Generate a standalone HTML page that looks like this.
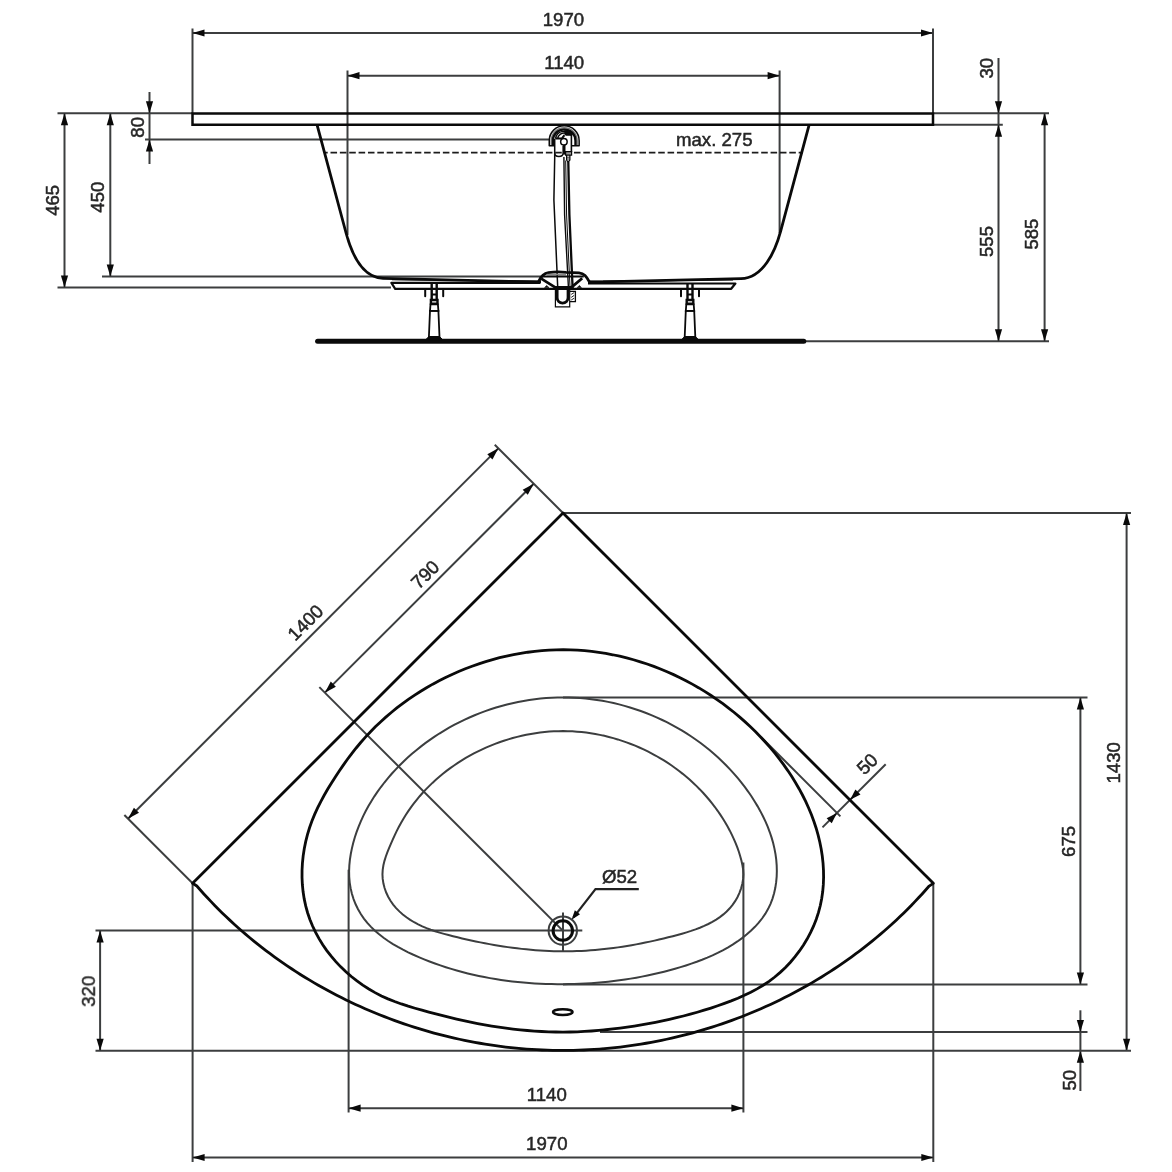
<!DOCTYPE html>
<html>
<head>
<meta charset="utf-8">
<title>Corner bathtub technical drawing</title>
<style>
html,body{margin:0;padding:0;background:#fff;}
body{width:1172px;height:1172px;overflow:hidden;}
svg{display:block;}
svg text{font-family:"Liberation Sans",sans-serif;}
</style>
</head>
<body>
<svg width="1172" height="1172" viewBox="0 0 1172 1172">
<rect width="1172" height="1172" fill="#ffffff"/>
<g style="mix-blend-mode:multiply">
<line x1="192.5" y1="28.5" x2="192.5" y2="113.4" stroke="#3c3e3f" stroke-width="2"/>
<line x1="933" y1="28.5" x2="933" y2="113.4" stroke="#3c3e3f" stroke-width="2"/>
<line x1="192.5" y1="33" x2="933" y2="33" stroke="#3c3e3f" stroke-width="2"/>
<polygon points="192.5,33 204.5,29.4 204.5,36.6" fill="#0a0a0a"/>
<polygon points="933,33 921,36.6 921,29.4" fill="#0a0a0a"/>
<text x="563.4" y="26.3" font-size="18.6" text-anchor="middle" fill="#262626" stroke="#262626" stroke-width="0.5">1970</text>
<line x1="347.5" y1="70.5" x2="347.5" y2="235" stroke="#3c3e3f" stroke-width="2"/>
<line x1="779.6" y1="70.5" x2="779.6" y2="233" stroke="#3c3e3f" stroke-width="2"/>
<line x1="347.5" y1="75.7" x2="779.6" y2="75.7" stroke="#3c3e3f" stroke-width="2"/>
<polygon points="347.5,75.7 359.5,72.1 359.5,79.3" fill="#0a0a0a"/>
<polygon points="779.6,75.7 767.6,79.3 767.6,72.1" fill="#0a0a0a"/>
<text x="564.2" y="68.8" font-size="18.6" text-anchor="middle" fill="#262626" stroke="#262626" stroke-width="0.5">1140</text>
<line x1="57.5" y1="113.3" x2="192.5" y2="113.3" stroke="#3c3e3f" stroke-width="2"/>
<line x1="145" y1="139.5" x2="550" y2="139.5" stroke="#3c3e3f" stroke-width="2"/>
<line x1="102" y1="276.5" x2="541" y2="276.5" stroke="#3c3e3f" stroke-width="2"/>
<line x1="57.5" y1="287.5" x2="391" y2="287.5" stroke="#3c3e3f" stroke-width="2"/>
<line x1="64.5" y1="113.3" x2="64.5" y2="287.5" stroke="#3c3e3f" stroke-width="2"/>
<polygon points="64.5,113.3 68.1,125.3 60.9,125.3" fill="#0a0a0a"/>
<polygon points="64.5,287.5 60.9,275.5 68.1,275.5" fill="#0a0a0a"/>
<text x="0" y="0" font-size="18.6" text-anchor="middle" fill="#262626" stroke="#262626" stroke-width="0.5" transform="translate(58.6 200.3) rotate(-90)">465</text>
<line x1="110.3" y1="113.3" x2="110.3" y2="276.5" stroke="#3c3e3f" stroke-width="2"/>
<polygon points="110.3,113.3 113.9,125.3 106.7,125.3" fill="#0a0a0a"/>
<polygon points="110.3,276.5 106.7,264.5 113.9,264.5" fill="#0a0a0a"/>
<text x="0" y="0" font-size="18.6" text-anchor="middle" fill="#262626" stroke="#262626" stroke-width="0.5" transform="translate(104.4 197.2) rotate(-90)">450</text>
<line x1="149.5" y1="92" x2="149.5" y2="164" stroke="#3c3e3f" stroke-width="2"/>
<polygon points="149.5,113.3 145.9,101.3 153.1,101.3" fill="#0a0a0a"/>
<polygon points="149.5,139.5 153.1,151.5 145.9,151.5" fill="#0a0a0a"/>
<text x="0" y="0" font-size="18.6" text-anchor="middle" fill="#262626" stroke="#262626" stroke-width="0.5" transform="translate(144.4 127.3) rotate(-90)">80</text>
<line x1="933" y1="113.3" x2="1049" y2="113.3" stroke="#3c3e3f" stroke-width="2"/>
<line x1="933" y1="124.65" x2="1002.8" y2="124.65" stroke="#3c3e3f" stroke-width="2"/>
<line x1="806" y1="341.2" x2="1049" y2="341.2" stroke="#3c3e3f" stroke-width="2"/>
<line x1="998.5" y1="58" x2="998.5" y2="341.2" stroke="#3c3e3f" stroke-width="2"/>
<polygon points="998.5,113.3 994.9,101.3 1002.1,101.3" fill="#0a0a0a"/>
<polygon points="998.5,124.65 1002.1,136.65 994.9,136.65" fill="#0a0a0a"/>
<polygon points="998.5,341.2 994.9,329.2 1002.1,329.2" fill="#0a0a0a"/>
<text x="0" y="0" font-size="18.6" text-anchor="middle" fill="#262626" stroke="#262626" stroke-width="0.5" transform="translate(992.7 68.2) rotate(-90)">30</text>
<text x="0" y="0" font-size="18.6" text-anchor="middle" fill="#262626" stroke="#262626" stroke-width="0.5" transform="translate(993.4 241.5) rotate(-90)">555</text>
<line x1="1044.6" y1="113.3" x2="1044.6" y2="341.2" stroke="#3c3e3f" stroke-width="2"/>
<polygon points="1044.6,113.3 1048.2,125.3 1041,125.3" fill="#0a0a0a"/>
<polygon points="1044.6,341.2 1041,329.2 1048.2,329.2" fill="#0a0a0a"/>
<text x="0" y="0" font-size="18.6" text-anchor="middle" fill="#262626" stroke="#262626" stroke-width="0.5" transform="translate(1038.2 234.1) rotate(-90)">585</text>
<line x1="324.6" y1="152.6" x2="803" y2="152.6" stroke="#1c1c1c" stroke-width="1.9" stroke-dasharray="6.56 2.803" stroke-dashoffset="3.46"/>
<text x="676" y="146.3" font-size="18.6" text-anchor="start" fill="#262626" stroke="#262626" stroke-width="0.5">max. 275</text>
<path d="M192.5,113.4 H933 V124.65 H192.5 Z" fill="none" stroke="#0a0a0a" stroke-width="2.5" stroke-linejoin="miter"/>
<path d="M317,124.65 L346.2,233.5 C351.5,253 362,277.6 383,278.3 L541,282.2" fill="none" stroke="#0a0a0a" stroke-width="2.8" stroke-linejoin="round"/>
<path d="M809.2,124.65 L780.6,231.3 C775,252 763,278 741,278.7 L588,282.2" fill="none" stroke="#0a0a0a" stroke-width="2.8" stroke-linejoin="round"/>
<path d="M392,279.6 L541,281.2" fill="none" stroke="#0a0a0a" stroke-width="1.2"/>
<path d="M733,279.8 L588,281.2" fill="none" stroke="#0a0a0a" stroke-width="1.2"/>
<path d="M540,282.8 H391.4 L395.2,288.8 H731.2 L735.4,283.5 H588" fill="none" stroke="#0a0a0a" stroke-width="2.2" stroke-linejoin="round"/>
<line x1="317.6" y1="341.2" x2="803.8" y2="341.2" stroke="#0a0a0a" stroke-width="5" stroke-linecap="round"/>
<line x1="425.2" y1="289" x2="425.2" y2="296.3" stroke="#0a0a0a" stroke-width="2" stroke-linecap="round"/>
<line x1="443.2" y1="289" x2="443.2" y2="296.3" stroke="#0a0a0a" stroke-width="2" stroke-linecap="round"/>
<path d="M431.7,283 V300 M436.7,283 V300" fill="none" stroke="#0a0a0a" stroke-width="2.4"/>
<path d="M431.6,289 H436.8 M431.6,294.6 H436.8" fill="none" stroke="#0a0a0a" stroke-width="2"/>
<path d="M430.9,300 H437.5 V303.6 H430.9 Z" fill="#fff" stroke="#0a0a0a" stroke-width="2.4"/>
<path d="M430.5,304.4 H437.9 L438.4,310.8 H430 Z" fill="none" stroke="#0a0a0a" stroke-width="1.8"/>
<path d="M430,310.8 L428.9,337 H439.5 L438.4,310.8 Z" fill="none" stroke="#0a0a0a" stroke-width="1.8"/>
<path d="M428.4,337 L425.8,339.6 H442.6 L440,337 Z" fill="#0a0a0a" stroke="#0a0a0a" stroke-width="1"/>
<line x1="681" y1="289" x2="681" y2="296.3" stroke="#0a0a0a" stroke-width="2" stroke-linecap="round"/>
<line x1="699" y1="289" x2="699" y2="296.3" stroke="#0a0a0a" stroke-width="2" stroke-linecap="round"/>
<path d="M687.5,283 V300 M692.5,283 V300" fill="none" stroke="#0a0a0a" stroke-width="2.4"/>
<path d="M687.4,289 H692.6 M687.4,294.6 H692.6" fill="none" stroke="#0a0a0a" stroke-width="2"/>
<path d="M686.7,300 H693.3 V303.6 H686.7 Z" fill="#fff" stroke="#0a0a0a" stroke-width="2.4"/>
<path d="M686.3,304.4 H693.7 L694.2,310.8 H685.8 Z" fill="none" stroke="#0a0a0a" stroke-width="1.8"/>
<path d="M685.8,310.8 L684.7,337 H695.3 L694.2,310.8 Z" fill="none" stroke="#0a0a0a" stroke-width="1.8"/>
<path d="M684.2,337 L681.6,339.6 H698.4 L695.8,337 Z" fill="#0a0a0a" stroke="#0a0a0a" stroke-width="1"/>
<path d="M554.5,145.7 H549.25 V140.7 A14.95,14.95 0 0 1 579.15,140.7 V145.7 H571.8" fill="none" stroke="#0a0a0a" stroke-width="1.5" stroke-linejoin="round"/>
<path d="M551.2,145 V140.7 A13,13 0 0 1 577.2,140.7 V145" fill="none" stroke="#777" stroke-width="1.3"/>
<path d="M552.9,145.2 V140.7 A11.3,11.3 0 0 1 575.5,140.7 V145.2" fill="none" stroke="#0a0a0a" stroke-width="2.4"/>
<path d="M555.6,138.6 A8.6,8.6 0 0 1 571.6,135.6" fill="none" stroke="#0a0a0a" stroke-width="1.5"/>
<path d="M557.6,138.9 A6.6,6.6 0 0 1 566,133.3" fill="none" stroke="#0a0a0a" stroke-width="1.4"/>
<path d="M564.6,130.6 Q569.5,130.4 572.6,133.4 L571.6,135 H565 Z" fill="#0a0a0a" stroke="#0a0a0a" stroke-width="0.8"/>
<path d="M555.4,138.4 H562 L564.4,135.2" fill="none" stroke="#0a0a0a" stroke-width="2"/>
<path d="M554.7,153 Q554.7,156.5 558.9,156.5 Q563.1,156.5 563.1,153 V146" fill="none" stroke="#0a0a0a" stroke-width="1.4"/>
<path d="M571.4,134.5 V152" fill="none" stroke="#0a0a0a" stroke-width="1.6"/>
<path d="M566,135 H571.4" fill="none" stroke="#0a0a0a" stroke-width="1.2"/>
<path d="M564.3,145 V154.6" fill="none" stroke="#0a0a0a" stroke-width="2.4"/>
<circle cx="563.9" cy="141.8" r="3.25" fill="#fff" stroke="#0a0a0a" stroke-width="1.5"/>
<path d="M565.6,151.7 H571.6 V155.1 H565.6 Z" fill="#9a9a9a" stroke="#0a0a0a" stroke-width="1.2"/>
<path d="M566.6,155.1 V160 L568.2,162 L569.9,160 V155.1" fill="none" stroke="#0a0a0a" stroke-width="1.2"/>
<path d="M566.8,157.2 H569.8 M566.8,159 H569.8" fill="none" stroke="#0a0a0a" stroke-width="0.8"/>
<path d="M554.7,139 V158 L553.9,200 L557.7,287" fill="none" stroke="#0a0a0a" stroke-width="1.5"/>
<path d="M563.9,157 L564.6,215 L568.4,287" fill="none" stroke="#0a0a0a" stroke-width="1.4"/>
<path d="M565.7,160.5 L566.6,215 L570,287" fill="none" stroke="#0a0a0a" stroke-width="1"/>
<path d="M568.3,161.5 L569.4,215 L572.7,290" fill="none" stroke="#0a0a0a" stroke-width="2.3"/>
<path d="M538.6,281.6 C541,276 543.5,273.4 548.5,272.7 Q557,271.4 566,272.4 L579,272.9 C584.5,273.3 586.5,277 589.4,281.9" fill="none" stroke="#0a0a0a" stroke-width="2.8"/>
<path d="M547,274.6 H566" fill="none" stroke="#8a8a8a" stroke-width="1.6"/>
<path d="M542.2,276.5 H583.8" fill="none" stroke="#0a0a0a" stroke-width="2.2"/>
<path d="M541.2,278.6 L555.2,287.4 H571.4 L582.2,278.2" fill="none" stroke="#0a0a0a" stroke-width="2.8" stroke-linejoin="round"/>
<path d="M544.6,287.6 L546.6,285.4 L549,287.6 Z" fill="#111" stroke="#0a0a0a" stroke-width="0.6"/>
<path d="M577.2,287.6 L579.4,285.4 L581.4,287.6 Z" fill="#111" stroke="#0a0a0a" stroke-width="0.6"/>
<path d="M557.1,289 V297.6 A5.5,5.5 0 0 0 568.1,297.6 V289" fill="none" stroke="#0a0a0a" stroke-width="2.9"/>
<path d="M555.4,290 V306.8 H569.7 V290" fill="none" stroke="#0a0a0a" stroke-width="1.2"/>
<path d="M570,291.3 H575.4 V301.7 H570" fill="none" stroke="#0a0a0a" stroke-width="1.3"/>
<path d="M571.2,294.4 L574.2,292.6 M571.2,297.4 L574.2,295.4 M571.2,300 L574.2,298.2" fill="none" stroke="#0a0a0a" stroke-width="0.9"/>
<line x1="192.6" y1="883.3" x2="124.36" y2="815.06" stroke="#3c3e3f" stroke-width="2"/>
<line x1="563" y1="513" x2="494.76" y2="444.76" stroke="#3c3e3f" stroke-width="2"/>
<line x1="127.97" y1="818.67" x2="498.37" y2="448.37" stroke="#3c3e3f" stroke-width="2"/>
<polygon points="127.97,818.67 133.91,807.64 139,812.73" fill="#0a0a0a"/>
<polygon points="498.37,448.37 492.43,459.4 487.34,454.31" fill="#0a0a0a"/>
<text x="0" y="0" font-size="18.6" text-anchor="middle" fill="#262626" stroke="#262626" stroke-width="0.5" transform="translate(310 627.1) rotate(-45)">1400</text>
<line x1="324.83" y1="692.63" x2="533.73" y2="483.73" stroke="#3c3e3f" stroke-width="2"/>
<polygon points="324.83,692.63 330.77,681.59 335.86,686.69" fill="#0a0a0a"/>
<polygon points="533.73,483.73 527.79,494.76 522.69,489.67" fill="#0a0a0a"/>
<line x1="319.33" y1="687.13" x2="562.8" y2="930.6" stroke="#3c3e3f" stroke-width="2"/>
<text x="0" y="0" font-size="18.6" text-anchor="middle" fill="#262626" stroke="#262626" stroke-width="0.5" transform="translate(429.6 579.1) rotate(-45)">790</text>
<line x1="563" y1="513" x2="1131" y2="513" stroke="#3c3e3f" stroke-width="2"/>
<line x1="1126.6" y1="513" x2="1126.6" y2="1050.8" stroke="#3c3e3f" stroke-width="2"/>
<polygon points="1126.6,513 1130.2,525 1123,525" fill="#0a0a0a"/>
<polygon points="1126.6,1050.8 1123,1038.8 1130.2,1038.8" fill="#0a0a0a"/>
<text x="0" y="0" font-size="18.6" text-anchor="middle" fill="#262626" stroke="#262626" stroke-width="0.5" transform="translate(1120.4 762.8) rotate(-90)">1430</text>
<line x1="563" y1="697.6" x2="1087.5" y2="697.6" stroke="#3c3e3f" stroke-width="2"/>
<line x1="563" y1="984.4" x2="1087.5" y2="984.4" stroke="#3c3e3f" stroke-width="2"/>
<line x1="1080.4" y1="697.6" x2="1080.4" y2="984.4" stroke="#3c3e3f" stroke-width="2"/>
<polygon points="1080.4,697.6 1084,709.6 1076.8,709.6" fill="#0a0a0a"/>
<polygon points="1080.4,984.4 1076.8,972.4 1084,972.4" fill="#0a0a0a"/>
<text x="0" y="0" font-size="18.6" text-anchor="middle" fill="#262626" stroke="#262626" stroke-width="0.5" transform="translate(1075.1 841.4) rotate(-90)">675</text>
<line x1="600" y1="1032" x2="1087.5" y2="1032" stroke="#3c3e3f" stroke-width="2"/>
<line x1="1080.4" y1="1010.3" x2="1080.4" y2="1091" stroke="#3c3e3f" stroke-width="2"/>
<polygon points="1080.4,1032 1076.8,1020 1084,1020" fill="#0a0a0a"/>
<polygon points="1080.4,1050.8 1084,1062.8 1076.8,1062.8" fill="#0a0a0a"/>
<text x="0" y="0" font-size="18.6" text-anchor="middle" fill="#262626" stroke="#262626" stroke-width="0.5" transform="translate(1075.7 1080.2) rotate(-90)">50</text>
<line x1="95.5" y1="1050.8" x2="1131" y2="1050.8" stroke="#3c3e3f" stroke-width="2"/>
<line x1="95.5" y1="930.6" x2="582.3" y2="930.6" stroke="#3c3e3f" stroke-width="2"/>
<line x1="100.1" y1="930.6" x2="100.1" y2="1050.8" stroke="#3c3e3f" stroke-width="2"/>
<polygon points="100.1,930.6 103.7,942.6 96.5,942.6" fill="#0a0a0a"/>
<polygon points="100.1,1050.8 96.5,1038.8 103.7,1038.8" fill="#0a0a0a"/>
<text x="0" y="0" font-size="18.6" text-anchor="middle" fill="#262626" stroke="#262626" stroke-width="0.5" transform="translate(94.9 991.3) rotate(-90)">320</text>
<line x1="563" y1="912.5" x2="563" y2="951" stroke="#3c3e3f" stroke-width="2"/>
<line x1="192.6" y1="883.3" x2="192.6" y2="1162" stroke="#3c3e3f" stroke-width="2"/>
<line x1="933.3" y1="883.3" x2="933.3" y2="1162" stroke="#3c3e3f" stroke-width="2"/>
<line x1="192.6" y1="1157.5" x2="933.3" y2="1157.5" stroke="#3c3e3f" stroke-width="2"/>
<polygon points="192.6,1157.5 204.6,1153.9 204.6,1161.1" fill="#0a0a0a"/>
<polygon points="933.3,1157.5 921.3,1161.1 921.3,1153.9" fill="#0a0a0a"/>
<text x="546.8" y="1150.3" font-size="18.6" text-anchor="middle" fill="#262626" stroke="#262626" stroke-width="0.5">1970</text>
<line x1="348.6" y1="869.7" x2="348.6" y2="1112.5" stroke="#3c3e3f" stroke-width="2"/>
<line x1="743.4" y1="862.5" x2="743.4" y2="1112.5" stroke="#3c3e3f" stroke-width="2"/>
<line x1="348.6" y1="1108.2" x2="743.4" y2="1108.2" stroke="#3c3e3f" stroke-width="2"/>
<polygon points="348.6,1108.2 360.6,1104.6 360.6,1111.8" fill="#0a0a0a"/>
<polygon points="743.4,1108.2 731.4,1111.8 731.4,1104.6" fill="#0a0a0a"/>
<text x="546.8" y="1100.8" font-size="18.6" text-anchor="middle" fill="#262626" stroke="#262626" stroke-width="0.5">1140</text>
<line x1="761" y1="737" x2="840.4" y2="816.4" stroke="#3c3e3f" stroke-width="2"/>
<line x1="822.5" y1="827.4" x2="885.7" y2="764.2" stroke="#3c3e3f" stroke-width="2"/>
<polygon points="850.15,799.75 855.38,789.43 860.47,794.52" fill="#0a0a0a"/>
<polygon points="836.95,812.95 831.72,823.27 826.63,818.18" fill="#0a0a0a"/>
<text x="0" y="0" font-size="18.6" text-anchor="middle" fill="#262626" stroke="#262626" stroke-width="0.5" transform="translate(871.8 768.5) rotate(-45)">50</text>
<path d="M638.8,889.1 H595.5 L573.5,917.4" fill="none" stroke="#222" stroke-width="2.2"/>
<polygon points="571.6,919.8 574.83,910.28 580.04,914.33" fill="#0a0a0a"/>
<text x="602" y="883.3" font-size="18.6" text-anchor="start" fill="#262626" stroke="#262626" stroke-width="0.5">&#216;52</text>
<path d="M563.06,697.38 L568.72,697.45 L574.37,697.66 L580.02,698.01 L585.66,698.51 L591.28,699.15 L596.89,699.92 L602.48,700.84 L608.04,701.89 L613.58,703.08 L619.09,704.4 L624.56,705.86 L630,707.45 L635.4,709.18 L640.76,711.03 L646.07,713.01 L651.34,715.13 L656.55,717.37 L661.71,719.73 L666.8,722.22 L671.84,724.84 L676.81,727.57 L681.72,730.43 L686.55,733.41 L691.31,736.51 L695.99,739.73 L700.59,743.06 L705.1,746.51 L709.53,750.08 L713.87,753.76 L718.11,757.55 L722.26,761.45 L726.31,765.47 L730.25,769.59 L734.09,773.82 L737.82,778.16 L741.43,782.61 L744.93,787.16 L748.31,791.81 L751.56,796.56 L754.68,801.42 L757.65,806.36 L760.46,811.39 L763.09,816.5 L765.53,821.69 L767.78,826.95 L769.8,832.28 L771.6,837.66 L773.15,843.1 L774.45,848.59 L775.49,854.13 L776.24,859.7 L776.69,865.31 L776.84,870.94 L776.67,876.59 L776.16,882.21 L775.31,887.78 L774.09,893.26 L772.51,898.62 L770.53,903.82 L768.16,908.84 L765.38,913.65 L762.23,918.25 L758.74,922.63 L754.95,926.81 L750.88,930.77 L746.58,934.53 L742.08,938.08 L737.41,941.44 L732.62,944.59 L727.72,947.55 L722.73,950.32 L717.66,952.91 L712.52,955.34 L707.31,957.62 L702.04,959.76 L696.72,961.77 L691.35,963.66 L685.95,965.45 L680.51,967.14 L675.05,968.74 L669.57,970.26 L664.07,971.7 L658.54,973.06 L653,974.33 L647.44,975.52 L641.87,976.63 L636.28,977.66 L630.68,978.62 L625.06,979.49 L619.43,980.29 L613.8,981.01 L608.16,981.65 L602.51,982.22 L596.85,982.71 L591.19,983.14 L585.53,983.48 L579.87,983.76 L574.21,983.96 L568.54,984.1 L562.89,984.16 L557.23,984.15 L551.58,984.08 L545.93,983.93 L540.29,983.7 L534.66,983.41 L529.03,983.03 L523.41,982.58 L517.8,982.04 L512.2,981.43 L506.6,980.73 L501.02,979.95 L495.44,979.08 L489.88,978.13 L484.33,977.09 L478.79,975.95 L473.26,974.73 L467.74,973.41 L462.24,972 L456.75,970.49 L451.27,968.89 L445.81,967.18 L440.37,965.38 L434.94,963.47 L429.53,961.46 L424.14,959.34 L418.77,957.12 L413.43,954.78 L408.17,952.31 L402.99,949.71 L397.91,946.96 L392.97,944.06 L388.18,940.99 L383.57,937.74 L379.15,934.31 L374.95,930.68 L371,926.85 L367.31,922.81 L363.9,918.54 L360.8,914.04 L358.04,909.29 L355.62,904.3 L353.57,899.09 L351.9,893.7 L350.61,888.18 L349.71,882.55 L349.21,876.87 L349.1,871.15 L349.34,865.42 L349.91,859.7 L350.78,854.01 L351.91,848.36 L353.27,842.79 L354.85,837.29 L356.64,831.87 L358.63,826.53 L360.81,821.28 L363.18,816.11 L365.73,811.03 L368.45,806.04 L371.34,801.15 L374.38,796.34 L377.58,791.63 L380.92,787.02 L384.39,782.5 L388,778.09 L391.72,773.78 L395.56,769.57 L399.51,765.47 L403.57,761.47 L407.72,757.59 L411.97,753.81 L416.32,750.15 L420.76,746.6 L425.28,743.16 L429.89,739.83 L434.58,736.62 L439.35,733.53 L444.2,730.56 L449.11,727.7 L454.1,724.97 L459.15,722.35 L464.26,719.86 L469.43,717.5 L474.65,715.25 L479.93,713.14 L485.25,711.15 L490.62,709.29 L496.04,707.56 L501.49,705.97 L506.97,704.5 L512.49,703.17 L518.04,701.97 L523.61,700.91 L529.2,699.98 L534.82,699.2 L540.45,698.55 L546.09,698.04 L551.74,697.68 L557.4,697.46 Z" fill="none" stroke="#3c3e3f" stroke-width="2"/>
<path d="M563.13,731.1 L567.75,731.17 L572.36,731.35 L576.97,731.65 L581.57,732.06 L586.16,732.59 L590.73,733.23 L595.29,733.99 L599.83,734.86 L604.34,735.84 L608.83,736.92 L613.29,738.12 L617.73,739.42 L622.13,740.83 L626.5,742.34 L630.84,743.95 L635.13,745.67 L639.38,747.49 L643.59,749.41 L647.76,751.43 L651.87,753.54 L655.94,755.75 L659.95,758.06 L663.9,760.46 L667.8,762.96 L671.64,765.54 L675.41,768.22 L679.12,770.99 L682.76,773.85 L686.33,776.79 L689.83,779.82 L693.25,782.94 L696.59,786.14 L699.86,789.42 L703.04,792.78 L706.14,796.23 L709.15,799.75 L712.07,803.35 L714.9,807.03 L717.64,810.79 L720.28,814.62 L722.81,818.53 L725.25,822.5 L727.58,826.55 L729.81,830.67 L731.91,834.85 L733.88,839.08 L735.72,843.36 L737.4,847.68 L738.93,852.03 L740.28,856.42 L741.46,860.82 L742.44,865.23 L743.14,869.69 L743.42,874.25 L743.14,878.92 L742.35,883.65 L741.1,888.33 L739.44,892.86 L737.45,897.17 L735.15,901.17 L732.58,904.88 L729.75,908.31 L726.68,911.49 L723.38,914.41 L719.88,917.11 L716.19,919.6 L712.33,921.88 L708.32,923.99 L704.17,925.92 L699.9,927.71 L695.54,929.36 L691.09,930.9 L686.58,932.33 L682.02,933.68 L677.44,934.95 L672.84,936.17 L668.25,937.34 L663.66,938.48 L659.07,939.57 L654.49,940.62 L649.92,941.62 L645.34,942.58 L640.77,943.5 L636.2,944.37 L631.64,945.19 L627.07,945.97 L622.51,946.69 L617.95,947.37 L613.39,947.99 L608.83,948.57 L604.26,949.09 L599.7,949.56 L595.13,949.97 L590.57,950.33 L586,950.64 L581.43,950.89 L576.85,951.08 L572.27,951.21 L567.69,951.29 L563.1,951.31 L558.51,951.26 L553.91,951.16 L549.31,951 L544.71,950.78 L540.1,950.5 L535.5,950.17 L530.89,949.79 L526.28,949.36 L521.67,948.87 L517.06,948.34 L512.46,947.75 L507.86,947.12 L503.26,946.44 L498.66,945.71 L494.07,944.95 L489.48,944.13 L484.9,943.28 L480.32,942.38 L475.76,941.45 L471.19,940.48 L466.64,939.47 L462.1,938.42 L457.57,937.34 L453.04,936.22 L448.53,935.07 L444.04,933.86 L439.58,932.59 L435.17,931.22 L430.81,929.73 L426.52,928.12 L422.3,926.34 L418.18,924.39 L414.15,922.25 L410.23,919.89 L406.44,917.3 L402.8,914.46 L399.35,911.4 L396.13,908.09 L393.17,904.55 L390.5,900.77 L388.16,896.76 L386.18,892.51 L384.59,888.08 L383.42,883.53 L382.7,878.92 L382.45,874.32 L382.71,869.77 L383.4,865.3 L384.47,860.88 L385.83,856.51 L387.42,852.17 L389.15,847.87 L390.97,843.58 L392.84,839.3 L394.78,835.06 L396.79,830.87 L398.9,826.72 L401.12,822.65 L403.45,818.65 L405.89,814.72 L408.45,810.86 L411.1,807.09 L413.86,803.39 L416.73,799.77 L419.68,796.23 L422.74,792.77 L425.88,789.39 L429.12,786.1 L432.44,782.89 L435.85,779.76 L439.33,776.72 L442.9,773.77 L446.53,770.91 L450.25,768.13 L454.03,765.45 L457.88,762.86 L461.79,760.36 L465.76,757.96 L469.8,755.65 L473.89,753.44 L478.03,751.32 L482.22,749.31 L486.46,747.39 L490.75,745.57 L495.07,743.86 L499.44,742.25 L503.84,740.74 L508.28,739.34 L512.74,738.04 L517.24,736.85 L521.76,735.77 L526.3,734.8 L530.87,733.94 L535.44,733.19 L540.04,732.55 L544.64,732.03 L549.26,731.62 L553.88,731.33 L558.5,731.16 Z" fill="none" stroke="#3c3e3f" stroke-width="2"/>
<path d="M563.29,649.77 L570.41,649.88 L577.52,650.2 L584.61,650.71 L591.68,651.43 L598.73,652.34 L605.75,653.45 L612.74,654.75 L619.7,656.23 L626.62,657.91 L633.49,659.76 L640.31,661.8 L647.09,664.02 L653.8,666.41 L660.46,668.98 L667.06,671.72 L673.58,674.63 L680.04,677.71 L686.42,680.95 L692.72,684.35 L698.93,687.92 L705.06,691.64 L711.09,695.51 L717.03,699.54 L722.87,703.72 L728.6,708.04 L734.23,712.52 L739.74,717.13 L745.14,721.88 L750.42,726.77 L755.57,731.8 L760.6,736.96 L765.49,742.25 L770.24,747.67 L774.86,753.21 L779.33,758.88 L783.64,764.67 L787.8,770.57 L791.78,776.58 L795.58,782.71 L799.19,788.93 L802.59,795.26 L805.78,801.68 L808.74,808.2 L811.46,814.8 L813.94,821.48 L816.17,828.24 L818.12,835.08 L819.79,841.99 L821.18,848.97 L822.27,856 L823.04,863.08 L823.48,870.19 L823.59,877.31 L823.34,884.42 L822.72,891.51 L821.71,898.55 L820.31,905.52 L818.5,912.42 L816.27,919.22 L813.64,925.89 L810.63,932.43 L807.25,938.8 L803.52,944.98 L799.46,950.96 L795.09,956.71 L790.41,962.21 L785.46,967.44 L780.23,972.38 L774.76,977 L769.06,981.29 L763.15,985.24 L757.04,988.88 L750.77,992.23 L744.35,995.33 L737.82,998.21 L731.19,1000.9 L724.48,1003.42 L717.73,1005.8 L710.93,1008.07 L704.1,1010.21 L697.23,1012.25 L690.33,1014.17 L683.4,1015.99 L676.44,1017.7 L669.45,1019.31 L662.44,1020.83 L655.41,1022.26 L648.37,1023.59 L641.31,1024.84 L634.23,1026.01 L627.14,1027.09 L620.04,1028.07 L612.94,1028.96 L605.82,1029.75 L598.69,1030.43 L591.56,1030.99 L584.43,1031.45 L577.28,1031.78 L570.14,1031.98 L562.99,1032.06 L555.85,1032 L548.7,1031.81 L541.56,1031.5 L534.42,1031.06 L527.28,1030.5 L520.16,1029.82 L513.04,1029.03 L505.93,1028.13 L498.84,1027.13 L491.76,1026.02 L484.7,1024.81 L477.66,1023.51 L470.64,1022.11 L463.63,1020.63 L456.65,1019.06 L449.69,1017.42 L442.74,1015.7 L435.81,1013.93 L428.88,1012.09 L421.95,1010.2 L415.04,1008.24 L408.16,1006.17 L401.34,1003.95 L394.6,1001.53 L387.95,998.86 L381.43,995.9 L375.06,992.62 L368.84,989.03 L362.8,985.14 L356.95,980.97 L351.32,976.53 L345.9,971.82 L340.73,966.86 L335.81,961.65 L331.16,956.22 L326.8,950.57 L322.75,944.72 L319.01,938.67 L315.62,932.43 L312.57,926.03 L309.89,919.46 L307.59,912.74 L305.7,905.88 L304.2,898.91 L303.09,891.84 L302.37,884.7 L302.02,877.51 L302.05,870.29 L302.43,863.07 L303.17,855.87 L304.26,848.71 L305.69,841.63 L307.45,834.63 L309.53,827.74 L311.93,820.99 L314.63,814.38 L317.6,807.9 L320.79,801.53 L324.2,795.26 L327.77,789.08 L331.5,782.99 L335.33,776.96 L339.26,770.99 L343.3,765.1 L347.46,759.3 L351.74,753.59 L356.16,747.99 L360.72,742.51 L365.44,737.16 L370.31,731.94 L375.33,726.86 L380.5,721.92 L385.81,717.12 L391.26,712.47 L396.84,707.96 L402.54,703.61 L408.37,699.4 L414.31,695.35 L420.36,691.46 L426.51,687.72 L432.76,684.15 L439.1,680.73 L445.54,677.49 L452.05,674.41 L458.65,671.5 L465.32,668.76 L472.05,666.2 L478.85,663.81 L485.7,661.6 L492.6,659.58 L499.55,657.73 L506.54,656.08 L513.57,654.61 L520.62,653.33 L527.7,652.24 L534.8,651.35 L541.92,650.65 L549.04,650.15 L556.17,649.86 Z" fill="none" stroke="#0a0a0a" stroke-width="2.8"/>
<path d="M192.6,883.3 L563,513 L933.3,883.3 L929.15,886.05 L925.66,890.01 L922.13,893.94 L918.55,897.82 L914.93,901.65 L911.27,905.44 L907.56,909.19 L903.82,912.89 L900.03,916.54 L896.21,920.15 L892.34,923.72 L888.44,927.24 L884.5,930.71 L880.52,934.14 L876.51,937.52 L872.45,940.85 L868.37,944.14 L864.24,947.39 L860.09,950.58 L855.89,953.73 L851.67,956.83 L847.41,959.88 L843.12,962.89 L838.79,965.85 L834.44,968.76 L830.05,971.62 L825.64,974.44 L821.19,977.2 L816.72,979.92 L812.22,982.59 L807.68,985.21 L803.13,987.78 L798.54,990.3 L793.93,992.78 L789.29,995.2 L784.63,997.57 L779.94,999.9 L775.23,1002.17 L770.49,1004.4 L765.74,1006.57 L760.95,1008.7 L756.15,1010.77 L751.33,1012.79 L746.48,1014.76 L741.62,1016.68 L736.74,1018.55 L731.83,1020.37 L726.91,1022.14 L721.97,1023.85 L717.01,1025.51 L712.04,1027.12 L707.05,1028.68 L702.04,1030.19 L697.02,1031.64 L691.99,1033.04 L686.94,1034.39 L681.87,1035.68 L676.8,1036.92 L671.71,1038.11 L666.61,1039.25 L661.5,1040.33 L656.38,1041.35 L651.24,1042.33 L646.1,1043.25 L640.95,1044.11 L635.79,1044.92 L630.63,1045.67 L625.45,1046.37 L620.27,1047.02 L615.08,1047.61 L609.89,1048.14 L604.69,1048.62 L599.49,1049.04 L594.29,1049.41 L589.08,1049.72 L583.87,1049.98 L578.65,1050.18 L573.43,1050.32 L568.22,1050.4 L563,1050.43 L557.78,1050.4 L552.57,1050.32 L547.35,1050.18 L542.13,1049.98 L536.92,1049.72 L531.71,1049.41 L526.51,1049.04 L521.31,1048.62 L516.11,1048.14 L510.92,1047.61 L505.73,1047.02 L500.55,1046.37 L495.37,1045.67 L490.21,1044.92 L485.05,1044.11 L479.9,1043.25 L474.76,1042.33 L469.62,1041.35 L464.5,1040.33 L459.39,1039.25 L454.29,1038.11 L449.2,1036.92 L444.13,1035.68 L439.06,1034.39 L434.01,1033.04 L428.98,1031.64 L423.96,1030.19 L418.95,1028.68 L413.96,1027.12 L408.99,1025.51 L404.03,1023.85 L399.09,1022.14 L394.17,1020.37 L389.26,1018.55 L384.38,1016.68 L379.52,1014.76 L374.67,1012.79 L369.85,1010.77 L365.05,1008.7 L360.26,1006.57 L355.51,1004.4 L350.77,1002.17 L346.06,999.9 L341.37,997.57 L336.71,995.2 L332.07,992.78 L327.46,990.3 L322.87,987.78 L318.32,985.21 L313.78,982.59 L309.28,979.92 L304.81,977.2 L300.36,974.44 L295.95,971.62 L291.56,968.76 L287.21,965.85 L282.88,962.89 L278.59,959.88 L274.33,956.83 L270.11,953.73 L265.91,950.58 L261.76,947.39 L257.63,944.14 L253.55,940.85 L249.49,937.52 L245.48,934.14 L241.5,930.71 L237.56,927.24 L233.66,923.72 L229.79,920.15 L225.97,916.54 L222.18,912.89 L218.44,909.19 L214.73,905.44 L211.07,901.65 L207.45,897.82 L203.87,893.94 L200.34,890.01 L196.85,886.05 Z" fill="none" stroke="#0a0a0a" stroke-width="2.8" stroke-linejoin="round"/>
<ellipse cx="562.8" cy="1012.1" rx="9.8" ry="2.9" fill="none" stroke="#0a0a0a" stroke-width="2.5"/>
<circle cx="562.8" cy="930.6" r="14.2" fill="none" stroke="#3c3e3f" stroke-width="2"/>
<circle cx="562.8" cy="930.6" r="9.75" fill="none" stroke="#0a0a0a" stroke-width="3"/>
</g>
</svg>
</body>
</html>
